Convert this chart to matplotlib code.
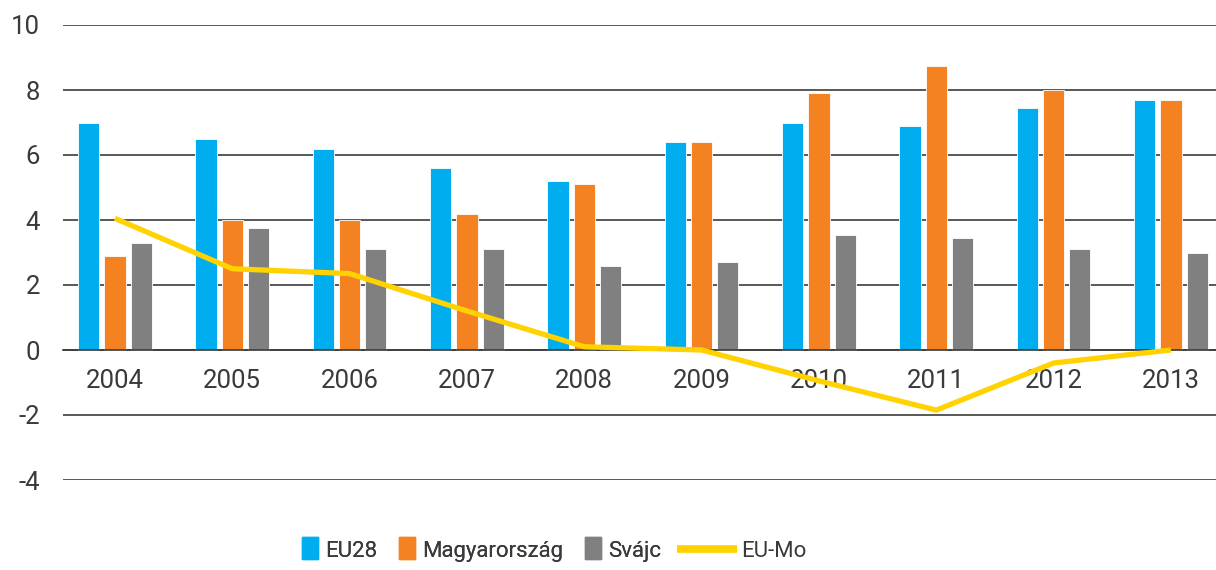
import numpy as np
import matplotlib.pyplot as plt
import matplotlib.patches as mpatches
from matplotlib.legend_handler import HandlerPatch
from matplotlib.lines import Line2D

# Data
years = ['2004', '2005', '2006', '2007', '2008', '2009', '2010', '2011', '2012', '2013']
eu28 = [7.0, 6.5, 6.2, 5.6, 5.2, 6.4, 7.0, 6.9, 7.45, 7.7]
magyarorszag = [2.9, 4.0, 4.0, 4.2, 5.1, 6.4, 7.9, 8.75, 8.0, 7.7]
svajc = [3.3, 3.75, 3.1, 3.1, 2.6, 2.7, 3.55, 3.45, 3.1, 3.0]
eu_mo = [4.05, 2.5, 2.35, 1.2, 0.1, 0.0, -0.95, -1.85, -0.4, 0.0]

series_labels = ['EU28', 'Magyarország', 'Svájc', 'EU-Mo']
colors = ['#00AEEF', '#F58220', '#808080', '#FFD200']
text_color = '#3a3a3a'

plt.rcParams['font.family'] = ['Roboto', 'DejaVu Sans']
plt.rcParams['axes.unicode_minus'] = False

fig = plt.figure(figsize=(12.16, 5.7), dpi=100)
ax = fig.add_axes([63 / 1216, 1 - 480 / 570, 1 - 63 / 1216, (480 - 25) / 570])

x = np.arange(len(years))
width = 0.18
step = 0.224

ax.bar(x - step, eu28, width, color=colors[0], edgecolor='white', linewidth=0.6, zorder=2)
ax.bar(x, magyarorszag, width, color=colors[1], edgecolor='white', linewidth=0.6, zorder=2)
ax.bar(x + step, svajc, width, color=colors[2], edgecolor='white', linewidth=0.6, zorder=2)
ax.plot(x, eu_mo, color=colors[3], linewidth=3.8, solid_capstyle='butt', zorder=3)

ax.set_ylim(-4, 10)
ax.set_xlim(-0.443, 9.384)
ax.set_yticks(range(-4, 11, 2))
ax.grid(axis='y', color='#3c3c3c', linewidth=1.2, zorder=1)
ax.set_axisbelow(True)

for side in ['top', 'right', 'left']:
    ax.spines[side].set_visible(False)
ax.spines['bottom'].set_position(('data', 0))
ax.spines['bottom'].set_color('#3c3c3c')
ax.spines['bottom'].set_linewidth(1.2)

ax.set_xticks(x)
ax.set_xticklabels(years)
ax.tick_params(axis='x', length=0, pad=14, labelsize=18.5, labelcolor=text_color)
ax.tick_params(axis='y', length=0, pad=16.5, labelsize=18.5, labelcolor=text_color)


# tall narrow legend boxes like the original
def box(legend, orig_handle, xdescent, ydescent, width, height, fontsize):
    h = 1.0 * fontsize
    return mpatches.Rectangle((-xdescent, -ydescent + (height - h) / 2 + 1), width, h)


bar_handles = [mpatches.Patch(color=c) for c in colors[:3]]
leg1 = fig.legend(bar_handles, series_labels[:3], loc='center', bbox_to_anchor=(0.396, 0.032),
                  ncol=3, frameon=False, fontsize=16, labelcolor=text_color,
                  handlelength=0.72, handletextpad=0.3, columnspacing=1.0,
                  handler_map={mpatches.Patch: HandlerPatch(patch_func=box)})
fig.add_artist(leg1)

line_handle = Line2D([], [], color=colors[3], linewidth=5.5, solid_capstyle='butt')
fig.legend([line_handle], series_labels[3:], loc='center', bbox_to_anchor=(0.610, 0.032),
           frameon=False, fontsize=16, labelcolor=text_color,
           handlelength=2.7, handletextpad=0.2)

fig.savefig('out.png', dpi=100)
